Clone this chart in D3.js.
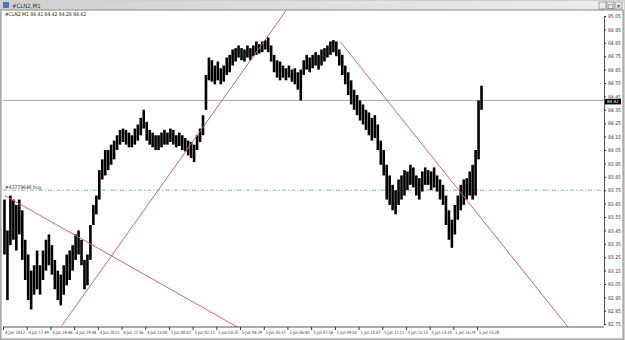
<!DOCTYPE html>
<html>
<head>
<meta charset="utf-8">
<script src="https://cdn.jsdelivr.net/npm/d3@7/dist/d3.min.js"></script>
<style>
  body { margin: 0; background: #fff; }
  text { font-family: "DejaVu Sans Condensed", "DejaVu Sans", sans-serif; }
</style>
</head>
<body>
<div id="chart"></div>
<script>
  // price data: one entry per 8 one-minute bars (high / low)
  const highs = [83.68,83.45,83.71,83.68,83.64,83.68,83.60,83.38,83.27,83.15,83.19,83.30,83.19,83.30,83.38,83.42,83.34,83.23,83.15,83.12,
    83.19,83.27,83.30,83.34,83.42,83.45,83.38,83.23,83.27,83.49,83.64,83.71,83.90,83.98,84.05,84.05,84.09,84.12,84.16,84.20,
    84.21,84.20,84.18,84.16,84.21,84.24,84.29,84.35,84.26,84.20,84.18,84.16,84.16,84.18,84.20,84.18,84.21,84.20,84.16,84.18,
    84.16,84.14,84.12,84.11,84.09,84.16,84.21,84.31,84.61,84.74,84.72,84.68,84.71,84.66,84.68,84.74,84.76,84.80,84.81,84.83,
    84.81,84.80,84.83,84.81,84.83,84.86,84.84,84.86,84.87,84.89,84.83,84.76,84.72,84.71,84.68,84.66,84.68,84.65,84.66,84.63,
    84.65,84.72,84.76,84.74,84.76,84.78,84.76,84.80,84.81,84.83,84.86,84.87,84.86,84.80,84.76,84.68,84.63,84.57,84.50,84.46,
    84.42,84.39,84.35,84.33,84.29,84.31,84.24,84.12,84.05,83.94,83.86,83.79,83.75,83.83,83.86,83.90,83.89,83.94,83.92,83.86,
    83.84,83.89,83.92,83.90,83.89,83.92,83.86,83.83,83.79,83.71,83.60,83.53,83.64,83.71,83.79,83.83,83.84,83.89,83.94,84.05,
    84.42,84.53];
  const lows = [83.27,82.93,83.34,83.38,83.30,83.42,83.23,83.08,82.93,82.86,82.97,83.01,82.97,83.08,83.15,83.19,83.12,83.01,82.93,82.89,
    82.97,83.04,83.08,83.15,83.23,83.27,83.19,83.01,83.04,83.23,83.49,83.57,83.68,83.83,83.86,83.90,83.94,83.98,84.05,84.09,
    84.11,84.09,84.07,84.07,84.09,84.12,84.16,84.21,84.12,84.09,84.07,84.05,84.05,84.07,84.09,84.09,84.11,84.09,84.07,84.08,
    84.05,84.04,84.01,83.99,83.96,84.05,84.11,84.16,84.35,84.57,84.56,84.54,84.57,84.54,84.56,84.61,84.63,84.68,84.71,84.74,
    84.72,84.71,84.74,84.72,84.75,84.76,84.77,84.78,84.80,84.78,84.71,84.63,84.59,84.57,84.59,84.57,84.59,84.56,84.54,84.50,
    84.42,84.61,84.65,84.63,84.66,84.68,84.65,84.68,84.71,84.74,84.76,84.78,84.75,84.68,84.61,84.54,84.46,84.39,84.35,84.31,
    84.27,84.24,84.20,84.16,84.12,84.14,84.05,83.94,83.86,83.68,83.64,83.60,83.57,83.64,83.68,83.71,83.75,83.79,83.77,83.71,
    83.68,83.74,83.79,83.79,83.75,83.77,83.74,83.68,83.64,83.49,83.38,83.32,83.42,83.53,83.60,83.64,83.68,83.71,83.68,83.71,
    83.98,84.35];
  const barsPerEntry = 8;
  const lastPrice = 84.42;
  const orderPrice = 83.75;
  const orderLabel = "#43779646 buy";

  // trend lines: [bar index, price] pairs
  const trendLines = [
    [[159, 82.74], [769, 85.11]],
    [[5, 83.71], [632, 82.73]],
    [[910, 84.86], [1531, 82.71]]
  ];

  const timeLabels = ["4 Jun 2012","4 Jun 17:49","4 Jun 18:44","4 Jun 19:48","4 Jun 20:52","4 Jun 21:56","4 Jun 23:00",
    "5 Jun 00:07","5 Jun 02:11","5 Jun 03:25","5 Jun 04:29","5 Jun 05:37","5 Jun 06:40","5 Jun 07:56","5 Jun 09:03",
    "5 Jun 10:07","5 Jun 11:11","5 Jun 12:15","5 Jun 13:20","5 Jun 14:29","5 Jun 15:28"];
  const barsPerLabel = 64;
  const priceTicks = d3.range(0, 24).map(i => +(82.75 + i * 0.1).toFixed(2));

  const title = "#CLN2,M1";
  const header = "#CLN2,M1  84.41 84.42 84.29 84.42";

  const width = 625, height = 340;
  const plot = { left: 3, right: 604, top: 11, bottom: 327 };

  const svg = d3.select("#chart").append("svg")
    .attr("width", width)
    .attr("height", height);

  // window frame
  svg.append("rect").attr("width", width).attr("height", height).attr("fill", "#d4d0c8");
  const defs = svg.append("defs");
  const grad = defs.append("linearGradient").attr("id", "titlebar").attr("x2", "100%");
  grad.append("stop").attr("offset", "0%").attr("stop-color", "#d0d0d0");
  grad.append("stop").attr("offset", "100%").attr("stop-color", "#ececec");
  svg.append("rect").attr("x", 1).attr("y", 1).attr("width", width - 2).attr("height", 9).attr("fill", "url(#titlebar)");
  svg.append("rect").attr("x", 3).attr("y", 2).attr("width", 6).attr("height", 6).attr("fill", "#4a78b8");
  svg.append("text").attr("x", 12).attr("y", 8).attr("font-size", "6px").attr("fill", "#333").text(title);
  ["_", "□", "×"].forEach((s, i) => {
    const bx = 599 + i * 8;
    svg.append("rect").attr("x", bx).attr("y", 2).attr("width", 7).attr("height", 7)
      .attr("fill", "#ececec").attr("stroke", "#777").attr("stroke-width", 0.6);
    svg.append("text").attr("x", bx + 3.5).attr("y", 7.6).attr("text-anchor", "middle")
      .attr("font-size", "6px").attr("fill", "#000").text(s);
  });

  // chart background
  svg.append("rect").attr("x", 1).attr("y", 10).attr("width", width - 3).attr("height", 329)
    .attr("fill", "#fff").attr("stroke", "#888").attr("stroke-width", 1);

  const x = d3.scaleLinear().domain([0, 1620]).range([plot.left, plot.right - 1]);
  const y = d3.scaleLinear().domain([82.75, 85.05]).range([324.2, 16]);

  defs.append("clipPath").attr("id", "plotclip").append("rect")
    .attr("x", plot.left).attr("y", plot.top)
    .attr("width", plot.right - plot.left).attr("height", plot.bottom - plot.top);

  const g = svg.append("g").attr("clip-path", "url(#plotclip)");

  // current price line
  g.append("line").attr("x1", plot.left).attr("x2", plot.right)
    .attr("y1", y(lastPrice)).attr("y2", y(lastPrice))
    .attr("stroke", "#a8a8a8").attr("stroke-width", 1);

  // order line
  g.append("line").attr("x1", plot.left).attr("x2", plot.right)
    .attr("y1", y(orderPrice)).attr("y2", y(orderPrice))
    .attr("stroke", "#8cb88c").attr("stroke-width", 1).attr("stroke-dasharray", "4,2,1,2");
  g.append("text").attr("x", 5).attr("y", y(orderPrice) - 1.5)
    .attr("font-size", "5px").attr("fill", "#333").text(orderLabel);

  // price bars
  g.selectAll(".bar").data(highs).enter().append("line")
    .attr("class", "bar")
    .attr("x1", (d, i) => x(i * barsPerEntry + barsPerEntry / 2))
    .attr("x2", (d, i) => x(i * barsPerEntry + barsPerEntry / 2))
    .attr("y1", d => y(d))
    .attr("y2", (d, i) => y(lows[i]))
    .attr("stroke", "#000")
    .attr("stroke-width", 2.6);

  // trend lines
  trendLines.forEach(([a, b]) => {
    g.append("line")
      .attr("x1", x(a[0])).attr("y1", y(a[1]))
      .attr("x2", x(b[0])).attr("y2", y(b[1]))
      .attr("stroke", "#cc6677").attr("stroke-width", 1);
  });

  // price axis
  svg.append("g")
    .attr("transform", `translate(${plot.right},0)`)
    .call(d3.axisRight(y).tickValues(priceTicks).tickSize(2).tickPadding(2).tickFormat(d3.format(".2f")))
    .call(a => a.select(".domain").attr("stroke", "#555"))
    .call(a => a.selectAll(".tick line").attr("stroke", "#333"))
    .call(a => a.selectAll(".tick text").attr("font-size", "5px").attr("fill", "#333")
      .attr("font-family", "DejaVu Sans Condensed, DejaVu Sans"));

  // last price badge
  svg.append("rect").attr("x", plot.right + 1).attr("y", y(lastPrice) - 1.5).attr("width", 16).attr("height", 5.5).attr("fill", "#000");
  svg.append("text").attr("x", plot.right + 3).attr("y", y(lastPrice) + 2.8)
    .attr("font-size", "4.5px").attr("fill", "#fff").text(lastPrice.toFixed(2));

  // time axis
  const timeTicks = timeLabels.map((t, i) => i * barsPerLabel);
  svg.append("g")
    .attr("transform", `translate(0,${plot.bottom})`)
    .call(d3.axisBottom(x).tickValues(timeTicks).tickSize(3).tickFormat((d, i) => timeLabels[i]))
    .call(a => a.select(".domain").attr("stroke", "#555").attr("d", `M${plot.left},0H${plot.right}`))
    .call(a => a.selectAll(".tick line").attr("stroke", "#333"))
    .call(a => a.selectAll(".tick text").attr("font-size", "4.5px").attr("fill", "#333")
      .attr("font-family", "DejaVu Sans Condensed, DejaVu Sans")
      .attr("text-anchor", "start").attr("x", 1.5).attr("dy", "0.2em")
      .attr("textLength", 20).attr("lengthAdjust", "spacingAndGlyphs"));

  // header text
  svg.append("text").attr("x", 5).attr("y", 16).attr("font-size", "5px").attr("fill", "#222").text(header);
</script>
</body>
</html>
